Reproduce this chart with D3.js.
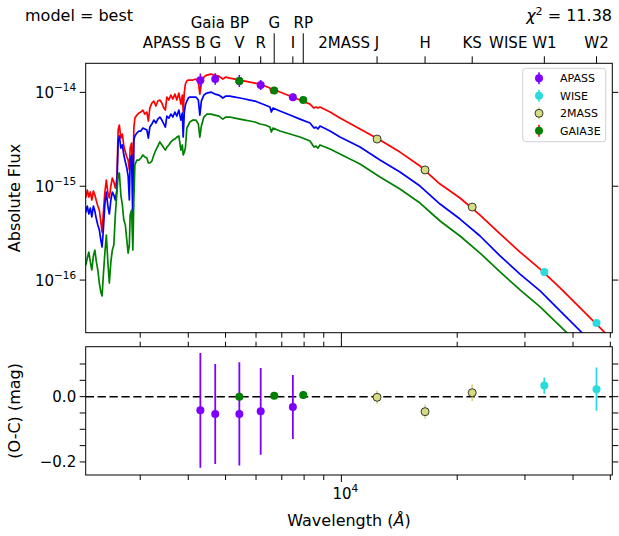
<!DOCTYPE html>
<html>
<head>
<meta charset="utf-8">
<script src="https://cdn.jsdelivr.net/npm/d3@7"></script>
<style>
  body { margin: 0; background: #fff; }
  svg { display: block; }
  text { font-family: "DejaVu Sans", sans-serif; fill: #000; }
</style>
</head>
<body>
<svg id="chart" width="619" height="536"></svg>
<script>
// ---- model spectra (wavelength in Angstrom, flux) ----
const waveModel = [
  2140, 2167, 2186, 2206, 2226, 2246, 2267, 2287, 2308, 2328,
  2349, 2370, 2388, 2406, 2428, 2450, 2472, 2494, 2517, 2539,
  2562, 2585, 2609, 2629, 2648, 2672, 2696, 2720, 2745, 2769,
  2791, 2811, 2825, 2849, 2871, 2888, 2906, 2941, 2976, 3012,
  3048, 3085, 3122, 3150, 3178, 3217, 3255, 3295, 3334, 3374,
  3415, 3456, 3487, 3519, 3561, 3604, 3648, 3692, 3736, 3781,
  3827, 3861, 3880, 3907, 3931, 3966, 4002, 4038, 4111, 4186,
  4249, 4287, 4326, 4391, 4471, 4579, 4690, 4803, 4920, 5009,
  5131, 5287, 5448, 5614, 5784, 5960, 6141, 6328, 6520, 6579,
  6638, 6923, 7350, 7805, 8287, 8489, 8590, 8694, 8799, 9342,
  9917, 11180, 12600, 14200, 16010, 18050, 20340, 22930, 25850, 29130,
  32850, 37020, 41740, 47050, 50560, 53030
];
const fluxRed = [
  7.31e-16, 7.67e-16, 9.11e-16, 7.67e-16, 8.68e-16, 7.13e-16, 8.89e-16, 8.06e-16, 6.96e-16, 6.15e-16,
  5.58e-16, 4.16e-16, 3.25e-16, 5.18e-16, 8.68e-16, 1.164e-15, 8.47e-16, 7.49e-16, 1.005e-15, 1.223e-15,
  1.108e-15, 9.57e-16, 1.223e-15, 3.97e-15, 4.49e-15, 3.26e-15, 3.60e-15, 2.68e-15, 2.31e-15, 2.05e-15,
  1.90e-15, 1.49e-15, 2.55e-15, 2.88e-15, 1.108e-15, 4.17e-15, 5.32e-15, 5.73e-15, 6.02e-15, 6.17e-15,
  6.48e-15, 5.87e-15, 6.17e-15, 4.95e-15, 6.81e-15, 7.69e-15, 8.08e-15, 7.15e-15, 8.08e-15, 8.28e-15,
  7.69e-15, 6.81e-15, 6.48e-15, 8.91e-15, 8.28e-15, 9.36e-15, 8.49e-15, 9.59e-15, 8.28e-15, 9.83e-15,
  7.50e-15, 9.36e-15, 6.17e-15, 1.007e-14, 1.226e-14, 1.319e-14, 1.352e-14, 1.352e-14, 1.352e-14, 1.386e-14,
  1.287e-14, 9.59e-15, 1.256e-14, 1.455e-14, 1.528e-14, 1.566e-14, 1.528e-14, 1.491e-14, 1.386e-14, 1.455e-14,
  1.420e-14, 1.386e-14, 1.352e-14, 1.319e-14, 1.287e-14, 1.256e-14, 1.226e-14, 1.167e-14, 1.111e-14, 9.83e-15,
  1.084e-14, 1.007e-14, 9.13e-15, 8.28e-15, 7.50e-15, 6.81e-15, 6.97e-15, 6.81e-15, 6.97e-15, 6.17e-15,
  5.32e-15, 4.07e-15, 3.10e-15, 2.31e-15, 1.641e-15, 1.055e-15, 7.49e-16, 4.93e-16, 3.10e-16, 1.99e-16,
  1.31e-16, 8.24e-17, 5.05e-17, 3.09e-17, 2.30e-17, 1.89e-17
];
const fluxBlue = [
  5.06e-16, 5.31e-16, 6.15e-16, 5.06e-16, 5.86e-16, 4.70e-16, 6.15e-16, 5.44e-16, 4.47e-16, 3.86e-16,
  3.42e-16, 2.67e-16, 2.25e-16, 3.42e-16, 6.46e-16, 8.68e-16, 6.15e-16, 5.06e-16, 7.13e-16, 8.68e-16,
  8.06e-16, 7.13e-16, 9.11e-16, 3.03e-15, 3.43e-15, 2.55e-15, 2.75e-15, 2.15e-15, 1.81e-15, 1.563e-15,
  1.284e-15, 7.13e-16, 1.90e-15, 2.15e-15, 3.86e-16, 3.10e-15, 3.43e-15, 3.69e-15, 3.87e-15, 3.87e-15,
  4.17e-15, 4.07e-15, 3.97e-15, 3.26e-15, 4.27e-15, 4.60e-15, 5.07e-15, 4.71e-15, 5.19e-15, 5.46e-15,
  5.07e-15, 4.60e-15, 4.27e-15, 5.59e-15, 5.32e-15, 5.87e-15, 5.46e-15, 6.17e-15, 5.59e-15, 6.48e-15,
  5.07e-15, 6.02e-15, 3.34e-15, 6.17e-15, 7.32e-15, 8.08e-15, 8.70e-15, 8.91e-15, 8.91e-15, 8.91e-15,
  8.28e-15, 5.73e-15, 8.08e-15, 9.36e-15, 9.83e-15, 1.007e-14, 9.59e-15, 9.36e-15, 8.70e-15, 9.13e-15,
  9.13e-15, 8.91e-15, 8.70e-15, 8.49e-15, 8.28e-15, 8.08e-15, 7.69e-15, 7.32e-15, 6.97e-15, 6.17e-15,
  6.81e-15, 6.32e-15, 5.73e-15, 5.19e-15, 4.71e-15, 4.17e-15, 4.27e-15, 4.07e-15, 4.38e-15, 3.87e-15,
  3.34e-15, 2.615e-15, 1.90e-15, 1.417e-15, 1.005e-15, 6.46e-16, 4.47e-16, 2.95e-16, 1.81e-16, 1.16e-16,
  7.66e-17, 4.69e-17, 2.87e-17, 1.76e-17, 1.31e-17, 1.05e-17
];
const fluxGreen = [
  1.56e-16, 1.45e-16, 1.72e-16, 1.99e-16, 1.56e-16, 1.28e-16, 1.81e-16, 2.09e-16, 1.56e-16, 1.28e-16,
  9.3e-17, 7.47e-17, 6.77e-17, 1.13e-16, 1.94e-16, 3.02e-16, 1.56e-16, 9.3e-17, 1.56e-16, 2.09e-16,
  2.36e-16, 4.93e-16, 8.47e-16, 1.316e-15, 1.382e-15, 8.06e-16, 6.31e-16, 4.37e-16, 3.86e-16, 2.67e-16,
  1.94e-16, 2.36e-16, 4.93e-16, 5.58e-16, 2.09e-16, 7.13e-16, 1.682e-15, 1.90e-15, 1.90e-15, 2.00e-15,
  2.15e-15, 2.05e-15, 2.00e-15, 1.767e-15, 1.767e-15, 1.855e-15, 2.15e-15, 2.43e-15, 2.68e-15, 2.96e-15,
  2.75e-15, 2.55e-15, 2.43e-15, 2.615e-15, 2.75e-15, 2.96e-15, 3.10e-15, 3.18e-15, 3.34e-15, 3.43e-15,
  2.43e-15, 2.75e-15, 2.15e-15, 2.31e-15, 2.55e-15, 4.17e-15, 4.49e-15, 4.83e-15, 5.07e-15, 5.07e-15,
  4.60e-15, 3.34e-15, 4.38e-15, 5.46e-15, 5.87e-15, 5.87e-15, 5.73e-15, 5.59e-15, 5.19e-15, 5.46e-15,
  5.46e-15, 5.32e-15, 5.19e-15, 5.07e-15, 4.95e-15, 4.83e-15, 4.60e-15, 4.49e-15, 4.27e-15, 3.78e-15,
  4.17e-15, 3.87e-15, 3.60e-15, 3.34e-15, 3.03e-15, 2.615e-15, 2.68e-15, 2.55e-15, 2.75e-15, 2.49e-15,
  2.20e-15, 1.724e-15, 1.253e-15, 9.34e-16, 6.62e-16, 4.26e-16, 2.95e-16, 1.94e-16, 1.22e-16, 7.85e-17,
  5.17e-17, 3.24e-17, 1.99e-17, 1.22e-17, 9.1e-18, 7.45e-18
];

// ---- photometry: bands, wavelength, flux, residual (mag), error (mag) ----
const apassBands = ["B", "G", "V", "R", "I"];
const apassWave  = [4300, 4700, 5430, 6170, 7480];
const apassFlux  = [1.35e-14, 1.39e-14, 1.32e-14, 1.20e-14, 8.85e-15];
const apassRes   = [-0.042, -0.053, -0.053, -0.045, -0.032];
const apassErr   = [0.176, 0.153, 0.158, 0.133, 0.098];

const wiseBands = ["W1", "W2"];
const wiseWave  = [33690, 46040];
const wiseFlux  = [1.22e-16, 3.49e-17];
const wiseRes   = [0.034, 0.023];
const wiseErr   = [0.025, 0.066];

const tmassBands = ["J", "H", "KS"];
const tmassWave  = [12380, 16500, 21880];
const tmassFlux  = [3.18e-15, 1.49e-15, 6.0e-16];
const tmassRes   = [-0.002, -0.046, 0.012];
const tmassErr   = [0.020, 0.021, 0.025];

const gaiaBands = ["BP", "G", "RP"];
const gaiaWave  = [5430, 6690, 7960];
const gaiaFlux  = [1.32e-14, 1.045e-14, 8.28e-15];
const gaiaRes   = [0.000, 0.003, 0.005];
const gaiaErr   = [0.012, 0.004, 0.012];

// ---- axis ticks ----
const fluxTicks = [1e-16, 1e-15, 1e-14];
const fluxTickExp = ["\u221216", "\u221215", "\u221214"];
const waveMinorTicks = [3000, 4000, 5000, 6000, 7000, 8000, 9000, 20000, 30000, 40000, 50000];
const waveMajorTicks = [10000];
const resTicks = [-0.2, -0.15, -0.1, -0.05, 0, 0.05, 0.1];
const resTickLabels = [[0, "0.0"], [-0.2, "\u22120.2"]];

const chiText = "11.38";
const modelText = "model = best";

// ---- layout ----
const svg = d3.select("#chart");
svg.append("rect").attr("width", 619).attr("height", 536).attr("fill", "#fff");

const L = 85.7, R = 612.3;
const panelTop = { y0: 63.3, y1: 332.7 };
const panelBot = { y0: 346.7, y1: 475 };

const x = d3.scaleLog().domain([2165, 50600]).range([L, R]);
const yF = d3.scaleLog().domain([2.75e-17, 2.04e-14]).range([panelTop.y1, panelTop.y0]);
const yR = d3.scaleLinear().domain([-0.240, 0.153]).range([panelBot.y1, panelBot.y0]);

const series = [
  { name: "APASS",  band: apassBands, wave: apassWave, flux: apassFlux, res: apassRes, err: apassErr, fill: "#8000ff", bar: "#8000ff", edge: null },
  { name: "WISE",   band: wiseBands,  wave: wiseWave,  flux: wiseFlux,  res: wiseRes,  err: wiseErr,  fill: "#29dbde", bar: "#29dbde", edge: null },
  { name: "2MASS",  band: tmassBands, wave: tmassWave, flux: tmassFlux, res: tmassRes, err: tmassErr, fill: "#d6dc7f", bar: "#d6dc7f", edge: "#222" },
  { name: "GAIA3E", band: gaiaBands,  wave: gaiaWave,  flux: gaiaFlux,  res: gaiaRes,  err: gaiaErr,  fill: "#008000", bar: "#ff0000", edge: null }
];

const defs = svg.append("defs");
defs.append("clipPath").attr("id", "clipTop")
  .append("rect").attr("x", L).attr("y", panelTop.y0).attr("width", R - L).attr("height", panelTop.y1 - panelTop.y0);
defs.append("clipPath").attr("id", "clipBot")
  .append("rect").attr("x", L).attr("y", panelBot.y0).attr("width", R - L).attr("height", panelBot.y1 - panelBot.y0);

// ---- upper panel: model spectra ----
const gTop = svg.append("g").attr("clip-path", "url(#clipTop)");
const specLine = d3.line().x((d, i) => x(waveModel[i])).y(d => yF(d));
[[fluxRed, "#ff0000"], [fluxBlue, "#0000ff"], [fluxGreen, "#008000"]].forEach(([f, c]) => {
  gTop.append("path").datum(f).attr("d", specLine)
    .attr("fill", "none").attr("stroke", c).attr("stroke-width", 1.7).attr("stroke-linejoin", "round");
});

// photometric points with error bars
series.forEach(s => {
  s.wave.forEach((w, i) => {
    const f = s.flux[i], e = s.err[i];
    gTop.append("line")
      .attr("x1", x(w)).attr("x2", x(w))
      .attr("y1", yF(f * Math.pow(10, 0.4 * e))).attr("y2", yF(f * Math.pow(10, -0.4 * e)))
      .attr("stroke", s.bar).attr("stroke-width", 1.6);
  });
  s.wave.forEach((w, i) => {
    gTop.append("circle").attr("cx", x(w)).attr("cy", yF(s.flux[i])).attr("r", 4)
      .attr("fill", s.fill)
      .attr("stroke", s.edge || "none").attr("stroke-width", 0.9);
  });
});

// ---- lower panel: residuals ----
const gBot = svg.append("g").attr("clip-path", "url(#clipBot)");
gBot.append("line").attr("x1", L).attr("x2", R).attr("y1", yR(0)).attr("y2", yR(0))
  .attr("stroke", "#000").attr("stroke-width", 1.5).attr("stroke-dasharray", "8.3,3.6");
series.forEach(s => {
  s.wave.forEach((w, i) => {
    gBot.append("line")
      .attr("x1", x(w)).attr("x2", x(w))
      .attr("y1", yR(s.res[i] + s.err[i])).attr("y2", yR(s.res[i] - s.err[i]))
      .attr("stroke", s.bar).attr("stroke-width", 1.8);
  });
  s.wave.forEach((w, i) => {
    gBot.append("circle").attr("cx", x(w)).attr("cy", yR(s.res[i])).attr("r", 4)
      .attr("fill", s.fill)
      .attr("stroke", s.edge || "none").attr("stroke-width", 0.9);
  });
});

// ---- frames and ticks ----
const axes = svg.append("g").attr("stroke", "#000").attr("stroke-width", 1);
function tick(x1, y1, x2, y2) {
  axes.append("line").attr("x1", x1).attr("y1", y1).attr("x2", x2).attr("y2", y2);
}
[panelTop, panelBot].forEach(p => {
  axes.append("rect").attr("x", L).attr("y", p.y0).attr("width", R - L).attr("height", p.y1 - p.y0)
    .attr("fill", "none");
});

// flux axis (left and right)
fluxTicks.forEach((v, i) => {
  const yy = yF(v);
  tick(L - 6, yy, L, yy);
  tick(R, yy, R + 6, yy);
  const t = svg.append("text").attr("x", L - 9.5).attr("y", yy + 5.5)
    .attr("text-anchor", "end").attr("font-size", 15);
  t.append("tspan").text("10");
  t.append("tspan").attr("dy", -7).attr("font-size", 10.5).text(fluxTickExp[i]);
});

// wavelength ticks: upper panel bottom, lower panel top and bottom
waveMinorTicks.forEach(w => {
  const xx = x(w);
  tick(xx, panelTop.y1, xx, panelTop.y1 + 5);
  tick(xx, panelBot.y0, xx, panelBot.y0 - 5);
  tick(xx, panelBot.y1, xx, panelBot.y1 + 5);
});
waveMajorTicks.forEach(w => {
  const xx = x(w);
  tick(xx, panelTop.y1, xx, panelTop.y1 + 7);
  tick(xx, panelBot.y0, xx, panelBot.y0 - 7);
  tick(xx, panelBot.y1, xx, panelBot.y1 + 7);
  const t = svg.append("text").attr("x", xx + 4).attr("y", 499)
    .attr("text-anchor", "middle").attr("font-size", 15);
  t.append("tspan").text("10");
  t.append("tspan").attr("dy", -7).attr("font-size", 10.5).text(Math.round(Math.log10(w)));
});

// residual ticks
resTicks.forEach(v => {
  const yy = yR(v);
  tick(L - 6, yy, L, yy);
  tick(R, yy, R + 6, yy);
});
resTickLabels.forEach(([v, s]) => {
  svg.append("text").attr("x", L - 9.5).attr("y", yR(v) + 5.5)
    .attr("text-anchor", "end").attr("font-size", 15).text(s);
});

// ---- filter axis along the top ----
function bandLabel(survey, band, wl, yBase) {
  const tmp = svg.append("text").attr("font-size", 15).text(band);
  const bw = tmp.node().getComputedTextLength();
  tmp.remove();
  svg.append("text").attr("x", x(wl) + bw / 2).attr("y", yBase)
    .attr("text-anchor", "end").attr("font-size", 15)
    .text(survey ? survey + " " + band : band);
}
const row2 = 48, row1 = 28;
apassBands.forEach((b, i) => {
  tick(x(apassWave[i]), panelTop.y0, x(apassWave[i]), panelTop.y0 - 7);
  bandLabel(i === 0 ? "APASS" : null, b, apassWave[i], row2);
});
tmassBands.forEach((b, i) => {
  tick(x(tmassWave[i]), panelTop.y0, x(tmassWave[i]), panelTop.y0 - 7);
  bandLabel(i === 0 ? "2MASS" : null, b, tmassWave[i], row2);
});
wiseBands.forEach((b, i) => {
  tick(x(wiseWave[i]), panelTop.y0, x(wiseWave[i]), panelTop.y0 - 7);
  bandLabel(i === 0 ? "WISE" : null, b, wiseWave[i], row2);
});
gaiaBands.forEach((b, i) => {
  const len = i === 0 ? 7 : 30;
  tick(x(gaiaWave[i]), panelTop.y0, x(gaiaWave[i]), panelTop.y0 - len);
  bandLabel(i === 0 ? "Gaia" : null, b, gaiaWave[i], row1);
});

// ---- titles and axis labels ----
svg.append("text").attr("x", 25).attr("y", 21).attr("font-size", 16).text(modelText);
const chi = svg.append("text").attr("x", 612).attr("y", 21).attr("text-anchor", "end").attr("font-size", 16);
chi.append("tspan").attr("font-style", "italic").text("\u03c7");
chi.append("tspan").attr("dy", -6).attr("font-size", 11).text("2");
chi.append("tspan").attr("dy", 6).text(" = " + chiText);

svg.append("text").attr("transform", "translate(20," + ((panelTop.y0 + panelTop.y1) / 2) + ") rotate(-90)")
  .attr("text-anchor", "middle").attr("font-size", 16).text("Absolute Flux");
svg.append("text").attr("transform", "translate(20," + ((panelBot.y0 + panelBot.y1) / 2) + ") rotate(-90)")
  .attr("text-anchor", "middle").attr("font-size", 16).text("(O-C) (mag)");
const xl = svg.append("text").attr("x", (L + R) / 2).attr("y", 526)
  .attr("text-anchor", "middle").attr("font-size", 16);
xl.append("tspan").text("Wavelength (");
xl.append("tspan").attr("font-style", "italic").text("\u00c5");
xl.append("tspan").text(")");

// ---- legend ----
const lg = svg.append("g");
lg.append("rect").attr("x", 522.7).attr("y", 68.3).attr("width", 83).attr("height", 73.4)
  .attr("rx", 3).attr("fill", "#fff").attr("fill-opacity", 0.8)
  .attr("stroke", "#d0d0d0").attr("stroke-width", 1);
series.forEach((s, i) => {
  const yy = 78.3 + i * 17.5;
  lg.append("line").attr("x1", 539).attr("x2", 539).attr("y1", yy - 6).attr("y2", yy + 6)
    .attr("stroke", s.bar).attr("stroke-width", 1.6);
  lg.append("circle").attr("cx", 539).attr("cy", yy).attr("r", 4)
    .attr("fill", s.fill).attr("stroke", s.edge || "none").attr("stroke-width", 0.9);
  lg.append("text").attr("x", 560).attr("y", yy + 4).attr("font-size", 11).text(s.name);
});
</script>
</body>
</html>
